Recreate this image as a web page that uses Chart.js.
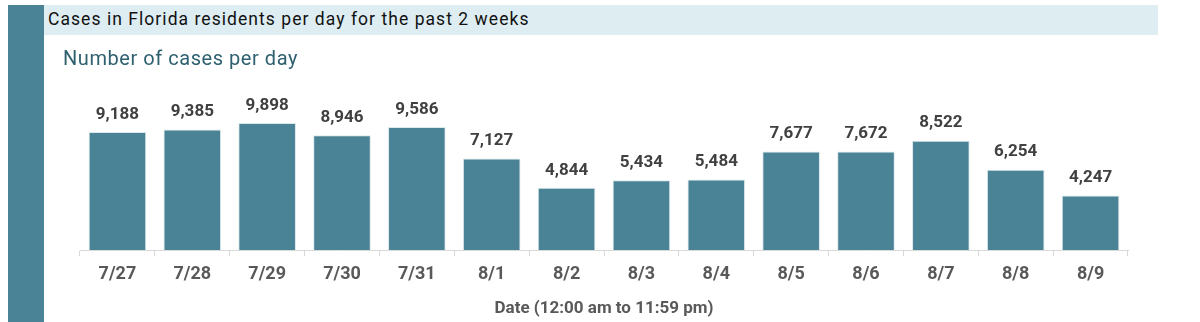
<!DOCTYPE html>
<html><head><meta charset="utf-8">
<script src="https://cdn.jsdelivr.net/npm/chart.js@4/dist/chart.umd.min.js"></script>
<style>
html,body{margin:0;padding:0;background:#fff;width:1200px;height:322px;overflow:hidden;}
#side{position:absolute;left:8px;top:5px;width:36px;height:317px;background:#4a8396;}
#head{position:absolute;left:44px;top:5px;width:1114px;height:30px;background:#deedf2;}
#title{position:absolute;left:48px;top:9px;font:17.5px "Roboto",sans-serif;letter-spacing:1.05px;color:#111;white-space:nowrap;}
#sub{position:absolute;left:63px;top:46px;font:20px "Roboto",sans-serif;letter-spacing:0.55px;color:#2e6070;white-space:nowrap;}
#c{position:absolute;left:0;top:0;}
</style></head><body>
<canvas id="c" width="1200" height="322"></canvas>
<div id="side"></div><div id="head"></div>
<div id="title">Cases in Florida residents per day for the past 2 weeks</div>
<div id="sub">Number of cases per day</div>
<script>
const categories = ["7/27","7/28","7/29","7/30","7/31","8/1","8/2","8/3","8/4","8/5","8/6","8/7","8/8","8/9"];
const cases = [9188,9385,9898,8946,9586,7127,4844,5434,5484,7677,7672,8522,6254,4247];
const xTitle = "Date (12:00 am to 11:59 pm)";
const FONT = '"Roboto",sans-serif';

const labelPlugin = {
  id:'vals',
  afterDatasetsDraw(chart){
    const ctx = chart.ctx;
    const meta = chart.getDatasetMeta(0);
    ctx.save();
    ctx.font = 'bold 17px ' + FONT;
    ctx.fillStyle = '#404040';
    ctx.textAlign = 'center';
    ctx.textBaseline = 'bottom';
    meta.data.forEach((bar,i)=>{
      ctx.fillText(cases[i].toLocaleString('en-US'), bar.x, bar.y - 9);
    });
    ctx.restore();
  }
};

new Chart(document.getElementById('c'), {
  type:'bar',
  data:{labels:categories, datasets:[{data:cases, backgroundColor:'#4a8396', borderColor:'#dbe8ec', borderWidth:1, barPercentage:0.77, categoryPercentage:1}]},
  options:{
    responsive:false, animation:false,
    layout:{padding:{left:80, right:72, top:96, bottom:0}},
    plugins:{legend:{display:false}, tooltip:{enabled:false}},
    scales:{
      y:{display:false, min:0, max:12000},
      x:{
        grid:{display:true, drawOnChartArea:false, drawTicks:true, tickLength:6, color:'#d9d9d9', offset:true},
        border:{display:true, color:'#d9d9d9'},
        ticks:{color:'#595959', font:{family:FONT, size:18, weight:'bold'}, padding:8},
        title:{display:true, text:xTitle, color:'#595959', font:{family:FONT, size:17, weight:'bold'}, padding:{top:4,bottom:3}},
        afterFit(s){ s.height = 72; }
      }
    }
  },
  plugins:[labelPlugin]
});
</script>
</body></html>
